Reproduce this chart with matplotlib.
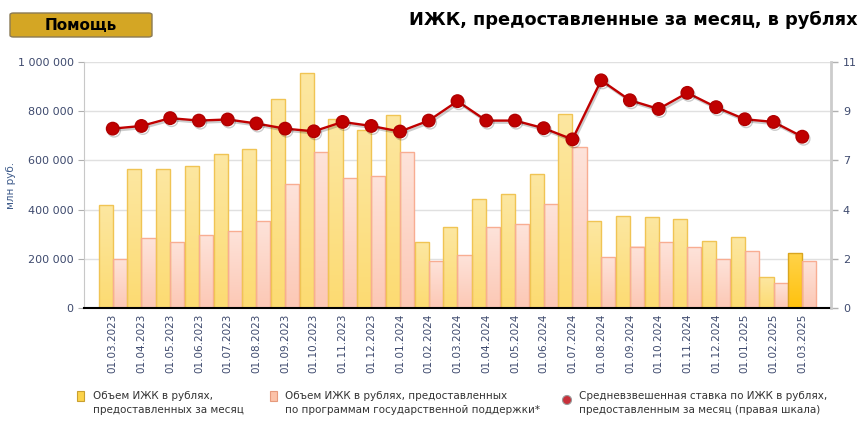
import numpy as np
import matplotlib
matplotlib.use("Agg")
import matplotlib.pyplot as plt
from matplotlib.patches import FancyBboxPatch, Rectangle, Ellipse
from matplotlib.ticker import FuncFormatter
import matplotlib.patheffects as pe

plt.rcParams['font.family'] = ['DejaVu Sans']

dates = ["01.03.2023", "01.04.2023", "01.05.2023", "01.06.2023", "01.07.2023",
         "01.08.2023", "01.09.2023", "01.10.2023", "01.11.2023", "01.12.2023",
         "01.01.2024", "01.02.2024", "01.03.2024", "01.04.2024", "01.05.2024",
         "01.06.2024", "01.07.2024", "01.08.2024", "01.09.2024", "01.10.2024",
         "01.11.2024", "01.12.2024", "01.01.2025", "01.02.2025", "01.03.2025"]

# объем ИЖК, млн руб.
total = [419000, 567000, 565000, 578000, 626000, 645000, 848000, 955000, 769000,
         724000, 784000, 268000, 329000, 445000, 463000, 544000, 788000, 352000,
         373000, 369000, 363000, 271000, 287000, 124000, 224000]
# в т.ч. по программам господдержки
gov = [201000, 284000, 269000, 295000, 314000, 354000, 503000, 633000, 528000,
       536000, 634000, 190000, 214000, 328000, 341000, 422000, 654000, 208000,
       250000, 267000, 246000, 201000, 230000, 101000, 193000]
# средневзвешенная ставка, %
rate = [8.02, 8.14, 8.49, 8.38, 8.43, 8.25, 8.02, 7.90, 8.32, 8.14, 7.89, 8.38,
        9.25, 8.38, 8.38, 8.04, 7.54, 10.18, 9.29, 8.90, 9.62, 8.98, 8.44, 8.32,
        7.66]

label_col = "#3e4a6e"

fig = plt.figure(figsize=(8.65, 4.37), dpi=100)
ax = fig.add_axes([84/865, 1-308/437, 747/865, 246/437])
x = np.arange(len(dates))
w = 0.49


def grad_bar(ax, x0, h, c_top, c_bot, edge):
    r = Rectangle((x0, 0), w, h, facecolor="none", edgecolor=edge, lw=1.0, zorder=3)
    ax.add_patch(r)
    g = np.linspace(0, 1, 64).reshape(-1, 1)
    ct = np.array(matplotlib.colors.to_rgb(c_top))
    cb = np.array(matplotlib.colors.to_rgb(c_bot))
    img = ct[None, None, :] * (1 - g[:, :, None]) + cb[None, None, :] * g[:, :, None]
    im = ax.imshow(img, extent=(x0, x0 + w, 0, h), aspect="auto", zorder=2,
                   origin="upper", interpolation="bilinear")
    im.set_clip_path(r)


for i in x:
    if i == len(x) - 1:
        grad_bar(ax, i - w, total[i], "#ffd34a", "#ffc20e", "#d9a520")
    else:
        grad_bar(ax, i - w, total[i], "#fde7a1", "#fcdb72", "#f0c454")
    grad_bar(ax, i, gov[i], "#fee3da", "#fcc8b5", "#f8ad92")

ax.set_xlim(-1, 25)
ax.set_ylim(0, 1000000)
ax.set_yticks(np.arange(0, 1000001, 200000))
ax.yaxis.set_major_formatter(FuncFormatter(lambda v, p: f"{int(v):,}".replace(",", " ")))
ax.set_xticks(x)
ax.set_xticklabels(dates, rotation=90, fontsize=7.5, color=label_col)
ax.tick_params(axis="x", length=0, pad=4)
ax.tick_params(axis="y", labelsize=8, colors="#b0b0b0", labelcolor=label_col, length=4)
ax.grid(axis="y", color="#e0e0e0", lw=1)
ax.set_axisbelow(True)
for s in ["top", "right"]:
    ax.spines[s].set_visible(False)
ax.spines["left"].set_color("#c8c8c8")
ax.spines["bottom"].set_color("black")
ax.spines["bottom"].set_linewidth(1.5)
ax.spines["bottom"].set_zorder(5)
fig.text(11/865, 1-185/437, "млн руб.", rotation=90, ha="center", va="center",
         fontsize=7.5, color="#3d5a8a")

ax2 = ax.twinx()
ax2.set_ylim(0, 11)
ax2.set_yticks(np.linspace(0, 11, 6))
ax2.yaxis.set_major_formatter(FuncFormatter(lambda v, p: f"{v:.0f}"))
ax2.tick_params(axis="y", labelsize=8, colors="#b0b0b0", labelcolor=label_col, length=5, width=1)
for s in ["top", "left", "bottom"]:
    ax2.spines[s].set_visible(False)
ax2.spines["right"].set_color("#cccccc")
ax2.spines["right"].set_linewidth(2)
ax2.plot(x, rate, color="#c00000", lw=1.7, marker="o", ms=9, mfc="#c00000",
         mec="#b00000", zorder=5,
         path_effects=[pe.SimpleLineShadow(offset=(1, -1.5), alpha=0.2), pe.Normal()])
ax2.set_xlim(-1, 25)

# кнопка и заголовок
btn = FancyBboxPatch((10/865, 1-37/437), 142/865, 24/437,
                     boxstyle="round,pad=0,rounding_size=0.004",
                     transform=fig.transFigure, facecolor="#d4a624",
                     edgecolor="#8a7a55", lw=1)
fig.patches.append(btn)
fig.text(81/865, 1-25/437, "Помощь", ha="center", va="center", fontsize=11,
         fontweight="bold", color="black")
fig.text(858/865, 1-20/437, "ИЖК, предоставленные за месяц, в рублях", ha="right",
         va="center", fontsize=12.8, fontweight="bold", color="black")

# легенда
leg_col = "#333333"
fig.patches.append(Rectangle((77/865, 1-401/437), 7/865, 10/437, transform=fig.transFigure,
                             facecolor="#fcd34a", edgecolor="#c9a030", lw=0.8))
fig.patches.append(Rectangle((270/865, 1-401/437), 7/865, 10/437, transform=fig.transFigure,
                             facecolor="#fcc2a8", edgecolor="#e69a7c", lw=0.8))
fig.patches.append(Ellipse((567/865, 1-400/437), 9/865, 9/437, transform=fig.transFigure,
                           facecolor="#c8303a", edgecolor="#9a9a9a", lw=0.8))
fig.text(93/865, 1-403/437, "Объем ИЖК в рублях,\nпредоставленных за месяц",
         fontsize=7.5, color=leg_col, va="center", linespacing=1.5)
fig.text(285/865, 1-403/437, "Объем ИЖК в рублях, предоставленных\nпо программам государственной поддержки*",
         fontsize=7.5, color=leg_col, va="center", linespacing=1.5)
fig.text(579/865, 1-403/437, "Средневзвешенная ставка по ИЖК в рублях,\nпредоставленным за месяц (правая шкала)",
         fontsize=7.5, color=leg_col, va="center", linespacing=1.5)

fig.savefig("out.png", dpi=100)
